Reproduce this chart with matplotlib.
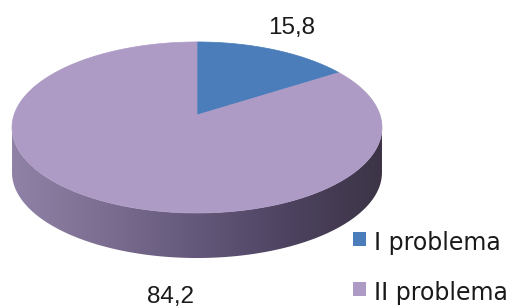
#!/usr/bin/env python3
import numpy as np
import matplotlib
matplotlib.use("Agg")
import matplotlib.pyplot as plt
from matplotlib.patches import Polygon, Rectangle
from matplotlib.colors import LinearSegmentedColormap

# data
labels = ["I problema", "II problema"]
values = [15.8, 84.2]
colors = ["#4A7DBA", "#AE9BC5"]
side_colors = ["#8F82A6", "#7B6E91", "#64587A", "#4D4360", "#3C3446"]

W, H = 527, 308

# pie geometry in pixel units (perspective projected disc)
cx, cy = 197.0, 115.0
A, B, k = 183.0, 83.7, 0.146
depth = 45.0


def proj(phi, r=1.0, dy=0.0):
    u = r * np.cos(phi)
    v = r * np.sin(phi)
    d = 1 + k * v
    return cx + A * u / d, cy - B * v / d + dy


fig = plt.figure(figsize=(W / 100.0, H / 100.0), dpi=100)
ax = fig.add_axes([0, 0, 1, 1])
ax.set_axis_off()

# side of the disc (front half only), with a horizontal gradient
a0 = np.pi + np.arcsin(k)
a1 = 2 * np.pi - np.arcsin(k)
t = np.linspace(a0, a1, 200)
tx, ty = proj(t)
bx, by = proj(t[::-1], dy=depth)
side = Polygon(np.column_stack([np.r_[tx, bx], np.r_[ty, by]]),
               closed=True, facecolor="none", edgecolor="none")
ax.add_patch(side)
cmap = LinearSegmentedColormap.from_list("side", side_colors)
grad = np.linspace(0, 1, 256)[None, :]
im = ax.imshow(grad, cmap=cmap, aspect="auto",
               extent=[tx.min(), tx.max(), by.max() + 2, ty.min() - 2])
im.set_clip_path(side)

# top face slices, clockwise from 12 o'clock
fracs = np.array(values) / sum(values)
start = np.pi / 2
for frac, col in zip(fracs, colors):
    end = start - frac * 2 * np.pi
    ang = np.linspace(start, end, 200)
    px, py = proj(ang)
    pts = np.column_stack([np.r_[cx, px], np.r_[cy, py]])
    ax.add_patch(Polygon(pts, closed=True, facecolor=col, edgecolor=col, lw=0.5))
    start = end

# data labels
fmt = [f"{v:.1f}".replace(".", ",") for v in values]
ax.text(292, 28, fmt[0], ha="center", va="center", fontsize=17.5,
        family="Liberation Sans", color="#1a1a1a")
ax.text(171, 303, fmt[1], ha="center", va="baseline", fontsize=17.5,
        family="Liberation Sans", color="#1a1a1a")

# legend
for i, (lab, col) in enumerate(zip(labels, colors)):
    y0 = 232 + 50 * i
    ax.add_patch(Rectangle((353, y0), 13, 14, facecolor=col, edgecolor="none"))
    ax.text(374, y0 + 18, lab, ha="left", va="baseline", fontsize=17,
            family="DejaVu Sans", color="#1a1a1a")

ax.set_xlim(0, W)
ax.set_ylim(H, 0)

fig.savefig("out.png", dpi=100)
plt.close("all")
